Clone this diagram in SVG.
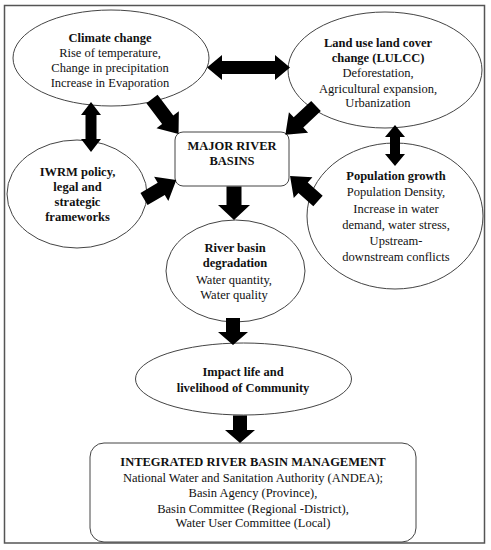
<svg xmlns="http://www.w3.org/2000/svg" width="491" height="550" viewBox="0 0 491 550">
<style>
.node{fill:#fff;stroke:#444;stroke-width:1}
.t{font-family:"Liberation Serif","Times New Roman",serif;font-size:12.5px;fill:#111;text-anchor:middle}
.b{font-weight:bold}
.arr{fill:#000;stroke:none}
</style>
<rect x="0" y="0" width="491" height="550" fill="#fff"/>
<rect x="4.5" y="5.5" width="480" height="537.5" fill="none" stroke="#555" stroke-width="1.5"/>
<g id="climate">
<ellipse class="node" cx="111" cy="58" rx="98" ry="48"/>
<text class="t b" x="110" y="42">Climate change</text>
<text class="t" x="110" y="57">Rise of temperature,</text>
<text class="t" x="110" y="72">Change in precipitation</text>
<text class="t" x="110" y="87">Increase in Evaporation</text>
</g>
<g id="lulcc">
<ellipse class="node" cx="385" cy="70" rx="97" ry="58"/>
<text class="t b" x="378" y="47">Land use land cover</text>
<text class="t b" x="378" y="62">change (LULCC)</text>
<text class="t" x="378" y="77">Deforestation,</text>
<text class="t" x="378" y="93">Agricultural expansion,</text>
<text class="t" x="378" y="107">Urbanization</text>
</g>
<g id="major">
<rect class="node" x="175" y="132" width="114" height="54" rx="8"/>
<text class="t b" x="232" y="150">MAJOR RIVER</text>
<text class="t b" x="232" y="165">BASINS</text>
</g>
<g id="iwrm">
<ellipse class="node" cx="77" cy="194" rx="70" ry="54"/>
<text class="t b" x="77.5" y="176">IWRM policy,</text>
<text class="t b" x="77.5" y="191">legal and</text>
<text class="t b" x="77.5" y="206">strategic</text>
<text class="t b" x="77.5" y="221">frameworks</text>
</g>
<g id="population">
<ellipse class="node" cx="395" cy="216" rx="88" ry="73"/>
<text class="t b" x="396" y="180">Population growth</text>
<text class="t" x="396" y="196">Population Density,</text>
<text class="t" x="396" y="213">Increase in water</text>
<text class="t" x="396" y="229">demand, water stress,</text>
<text class="t" x="396" y="245">Upstream-</text>
<text class="t" x="396" y="261">downstream conflicts</text>
</g>
<g id="degradation">
<ellipse class="node" cx="235.5" cy="271" rx="69.5" ry="51"/>
<text class="t b" x="235" y="252">River basin</text>
<text class="t b" x="235" y="267">degradation</text>
<text class="t" x="234" y="284">Water quantity,</text>
<text class="t" x="234" y="299">Water quality</text>
</g>
<g id="impact">
<ellipse class="node" cx="243.5" cy="379" rx="108" ry="36"/>
<text class="t b" x="243" y="376">Impact life and</text>
<text class="t b" x="243" y="392">livelihood of Community</text>
</g>
<g id="irbm">
<rect class="node" x="90" y="443" width="326" height="99" rx="14"/>
<text class="t b" x="253" y="466">INTEGRATED RIVER BASIN MANAGEMENT</text>
<text class="t" x="253" y="482">National Water and Sanitation Authority (ANDEA);</text>
<text class="t" x="253" y="497">Basin Agency (Province),</text>
<text class="t" x="253" y="513">Basin Committee (Regional -District),</text>
<text class="t" x="253" y="527">Water User Committee (Local)</text>
</g>
<g id="connectors">
<path class="arr" transform="translate(152,99) rotate(52.9)" d="M0,-7 L26,-7 L26,-14 L44,0 L26,14 L26,7 L0,7 Z"/>
<path class="arr" transform="translate(316,106) rotate(136.8)" d="M0,-7 L24,-7 L24,-14 L42,0 L24,14 L24,7 L0,7 Z"/>
<path class="arr" transform="translate(318,201) rotate(221.8)" d="M0,-7 L20,-7 L20,-14 L37.5,0 L20,14 L20,7 L0,7 Z"/>
<path class="arr" transform="translate(144,199) rotate(-30.5)" d="M0,-7 L20,-7 L20,-14 L37.5,0 L20,14 L20,7 L0,7 Z"/>
<path class="arr" transform="translate(234,186.5) rotate(90)" d="M0,-7.5 L18.5,-7.5 L18.5,-16 L33.5,0 L18.5,16 L18.5,7.5 L0,7.5 Z"/>
<path class="arr" transform="translate(233,318) rotate(90)" d="M0,-7 L14,-7 L14,-15 L27,0 L14,15 L14,7 L0,7 Z"/>
<path class="arr" transform="translate(240,415.5) rotate(90)" d="M0,-7 L14.5,-7 L14.5,-15 L27.5,0 L14.5,15 L14.5,7 L0,7 Z"/>
<path class="arr" transform="translate(207,67.5)" d="M0,0 L15,-12.5 L15,-6.5 L68,-6.5 L68,-12.5 L83,0 L68,12.5 L68,6.5 L15,6.5 L15,12.5 Z"/>
<path class="arr" transform="translate(91,102) rotate(90)" d="M0,0 L13,-10 L13,-5.5 L37,-5.5 L37,-10 L50,0 L37,10 L37,5.5 L13,5.5 L13,10 Z"/>
<path class="arr" transform="translate(395,125) rotate(90)" d="M0,0 L12,-10 L12,-5 L29,-5 L29,-10 L41,0 L29,10 L29,5 L12,5 L12,10 Z"/>
</g>
</svg>
